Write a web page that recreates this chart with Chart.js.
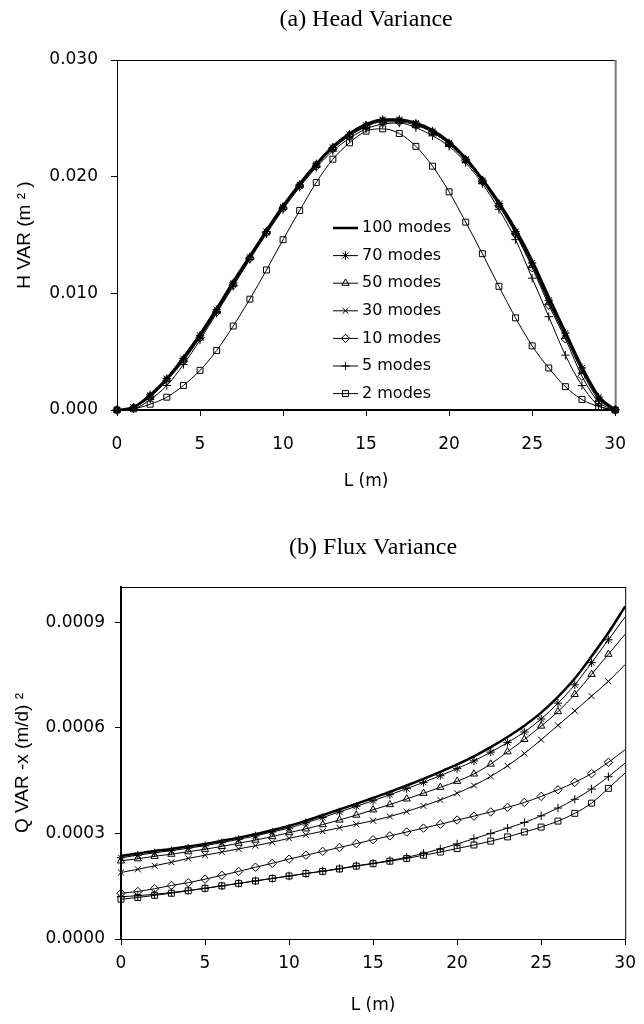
<!doctype html>
<html>
<head>
<meta charset="utf-8">
<title>Head and Flux Variance</title>
<script src="https://cdn.jsdelivr.net/npm/chart.js"></script>
<style>
body{margin:0;background:#fff}
.wrap{position:absolute;left:0;width:644px}
</style>
</head>
<body>
<div class="wrap" style="top:0"><canvas id="head" width="644" height="500"></canvas></div>
<div class="wrap" style="top:510px"><canvas id="flux" width="644" height="514"></canvas></div>
<script>
// L (m) positions
const L = [0,1,2,3,4,5,6,7,8,9,10,11,12,13,14,15,16,17,18,19,20,21,22,23,24,25,26,27,28,29,30];
const xTicks = [0,5,10,15,20,25,30];
const hTicks = [0,0.01,0.02,0.03];
const qTicks = [0,0.0003,0.0006,0.0009];

const labels = ['100 modes','70 modes','50 modes','30 modes','10 modes','5 modes','2 modes'];
const markers = [false,'star','triangle','crossRot','rectRot','cross','rect'];

// (a) head variance, m^2
const h100 = [0,0.00025,0.0013,0.0027,0.0045,0.0065,0.0087,0.0110,0.0132,0.0154,0.0175,0.0194,0.0211,0.0226,0.0237,0.0245,0.0249,0.0249,0.0246,0.0240,0.0230,0.0216,0.0198,0.0178,0.0155,0.0128,0.0097,0.0067,0.0037,0.0012,0];
const h70  = [0,0.00023,0.0013,0.0027,0.0044,0.0064,0.0086,0.0109,0.0131,0.0153,0.0174,0.0193,0.0211,0.0225,0.0236,0.0244,0.0249,0.0249,0.0246,0.0239,0.0229,0.0215,0.0197,0.0177,0.0153,0.0126,0.0094,0.0066,0.0036,0.0011,0];
const h50  = [0,0.00022,0.0012,0.0026,0.0043,0.0063,0.0085,0.0108,0.0131,0.0153,0.0174,0.0193,0.0210,0.0225,0.0236,0.0244,0.0248,0.0248,0.0245,0.0238,0.0228,0.0214,0.0197,0.0176,0.0152,0.0124,0.0092,0.0063,0.0033,0.0009,0];
const h30  = [0,0.00022,0.0012,0.0026,0.0043,0.0063,0.0085,0.0108,0.0130,0.0152,0.0173,0.0192,0.0210,0.0224,0.0235,0.0243,0.0248,0.0248,0.0245,0.0238,0.0228,0.0214,0.0196,0.0176,0.0152,0.0124,0.0093,0.0064,0.0034,0.0010,0];
const h10  = [0,0.00020,0.0011,0.0025,0.0042,0.0062,0.0084,0.0107,0.0130,0.0152,0.0173,0.0192,0.0209,0.0224,0.0235,0.0243,0.0247,0.0247,0.0244,0.0238,0.0228,0.0214,0.0196,0.0175,0.0151,0.0122,0.0090,0.0061,0.0029,0.0007,0];
const h5   = [0,0.0001,0.0009,0.0021,0.0039,0.0060,0.0083,0.0106,0.0129,0.0151,0.0172,0.0191,0.0208,0.0222,0.0233,0.0241,0.0245,0.0246,0.0242,0.0235,0.0226,0.0212,0.0194,0.0172,0.0146,0.0113,0.0080,0.0047,0.0021,0.0004,0];
const h2   = [0,0.0001,0.0005,0.0011,0.0021,0.0034,0.0051,0.0072,0.0095,0.0120,0.0146,0.0171,0.0195,0.0215,0.0229,0.0239,0.0241,0.0237,0.0226,0.0209,0.0187,0.0161,0.0134,0.0106,0.0079,0.0055,0.0036,0.0020,0.0009,0.0003,0];

// (b) flux variance, (m/d)^2
const q100 = [0.000236,0.000243,0.000250,0.000256,0.000263,0.000270,0.000279,0.000288,0.000298,0.000309,0.000321,0.000336,0.000352,0.000368,0.000384,0.000401,0.000418,0.000436,0.000455,0.000475,0.000496,0.000519,0.000545,0.000574,0.000606,0.000643,0.000688,0.000740,0.000803,0.000870,0.000945];
const q70  = [0.000231,0.000238,0.000245,0.000251,0.000258,0.000265,0.000274,0.000283,0.000293,0.000304,0.000315,0.000330,0.000345,0.000361,0.000377,0.000393,0.000410,0.000427,0.000445,0.000464,0.000484,0.000506,0.000531,0.000558,0.000588,0.000625,0.000670,0.000722,0.000785,0.000850,0.000915];
const q50  = [0.000222,0.000228,0.000235,0.000241,0.000248,0.000255,0.000263,0.000272,0.000281,0.000291,0.000302,0.000313,0.000325,0.000338,0.000352,0.000367,0.000382,0.000398,0.000414,0.000431,0.000448,0.000469,0.000497,0.000532,0.000567,0.000605,0.000646,0.000695,0.000752,0.000809,0.000866];
const q30  = [0.000189,0.000198,0.000208,0.000218,0.000229,0.000238,0.000247,0.000256,0.000265,0.000275,0.000286,0.000296,0.000306,0.000316,0.000326,0.000336,0.000348,0.000362,0.000378,0.000395,0.000414,0.000436,0.000462,0.000492,0.000527,0.000566,0.000607,0.000648,0.000690,0.000732,0.000780];
const q10  = [0.000130,0.000135,0.000143,0.000152,0.000160,0.000170,0.000181,0.000192,0.000204,0.000215,0.000227,0.000238,0.000249,0.000260,0.000271,0.000282,0.000293,0.000304,0.000315,0.000326,0.000338,0.000349,0.000361,0.000374,0.000388,0.000405,0.000424,0.000445,0.000470,0.000502,0.000538];
const q5   = [0.000120,0.000123,0.000127,0.000132,0.000138,0.000144,0.000151,0.000158,0.000165,0.000172,0.000179,0.000186,0.000193,0.000200,0.000208,0.000215,0.000223,0.000232,0.000243,0.000256,0.000270,0.000285,0.000300,0.000315,0.000331,0.000350,0.000372,0.000397,0.000426,0.000461,0.000500];
const q2   = [0.000113,0.000118,0.000124,0.000130,0.000137,0.000144,0.000151,0.000158,0.000165,0.000172,0.000179,0.000186,0.000192,0.000199,0.000207,0.000214,0.000221,0.000229,0.000238,0.000247,0.000257,0.000267,0.000278,0.000290,0.000304,0.000318,0.000335,0.000357,0.000386,0.000428,0.000472];

const SANS = '"DejaVu Sans", "Liberation Sans", sans-serif';
const SANS_N = '"Liberation Sans", Arial, sans-serif';
const SERIF = '"Liberation Serif", "Times New Roman", serif';

function makeSets(series, lastMarker) {
  return series.map((ys, i) => ({
    label: labels[i],
    data: ys.map((y, j) => ({ x: L[j], y: y })),
    borderColor: '#000',
    borderWidth: i === 0 ? 2.5 : 1,
    pointStyle: markers[i] || 'circle',
    pointRadius: i === 0 ? 0 : (c => (!lastMarker && c.dataIndex === L.length - 1) ? 0 : 4.2),
    pointBorderWidth: 1,
    pointBorderColor: '#000',
    pointBackgroundColor: 'rgba(0,0,0,0)',
    cubicInterpolationMode: 'monotone',
    clip: false,
    fill: false
  }));
}

// box round the plot area + title centred over the plot area
const frame = {
  id: 'frame',
  beforeDatasetsDraw(chart, args, opts) {
    const a = chart.chartArea, ctx = chart.ctx;
    ctx.save();
    ctx.lineWidth = 1;
    ctx.strokeStyle = '#000';
    ctx.beginPath();
    ctx.moveTo(a.left, a.top + 0.5);
    ctx.lineTo(a.right + 1, a.top + 0.5);
    ctx.stroke();
    ctx.lineWidth = opts.rightWidth;
    ctx.strokeStyle = opts.rightColor;
    ctx.beginPath();
    ctx.moveTo(a.right + 0.5, a.top);
    ctx.lineTo(a.right + 0.5, a.bottom);
    ctx.stroke();
    ctx.fillStyle = '#000';
    ctx.font = '24px ' + SERIF;
    ctx.textAlign = 'center';
    ctx.textBaseline = 'middle';
    ctx.fillText(opts.text, (a.left + a.right) / 2, opts.y);
    ctx.restore();
  }
};

// legend drawn inside the head chart
const innerLegend = {
  id: 'innerLegend',
  afterDatasetsDraw(chart, args, opts) {
    if (!opts.show) return;
    const ctx = chart.ctx, a = chart.chartArea;
    const x0 = a.left + 216, y0 = a.top + 168;
    ctx.save();
    ctx.font = '16px ' + SANS;
    ctx.textBaseline = 'middle';
    chart.data.datasets.forEach((ds, i) => {
      const y = y0 + i * 27.6;
      ctx.strokeStyle = '#000';
      ctx.lineWidth = ds.borderWidth;
      ctx.beginPath(); ctx.moveTo(x0, y); ctx.lineTo(x0 + 25, y); ctx.stroke();
      if (markers[i] && Chart.helpers && Chart.helpers.drawPoint) {
        ctx.lineWidth = 1;
        ctx.fillStyle = 'rgba(0,0,0,0)';
        Chart.helpers.drawPoint(ctx, { pointStyle: markers[i], radius: 4.2, rotation: 0, borderWidth: 1 }, x0 + 12.5, y);
      }
      ctx.fillStyle = '#000';
      ctx.fillText(ds.label, x0 + 29, y);
    });
    ctx.restore();
  }
};

function axis(ticks, min, max, fmt, title, o) {
  return {
    type: 'linear',
    min: min,
    max: max,
    afterBuildTicks: s => { s.ticks = ticks.map(v => ({ value: v })); },
    grid: { drawOnChartArea: false, drawTicks: true, tickLength: 6, color: '#000', tickColor: '#000' },
    border: { color: '#000', width: o.border },
    ticks: { color: '#000', font: { family: SANS, size: 17 }, padding: o.tickPad, maxRotation: 0, callback: fmt },
    title: { display: true, text: title, color: '#000', font: { family: o.titleFont || SANS, size: o.titleSize || 17 }, padding: o.titlePad },
    afterFit: o.fit
  };
}

function build(id, series, o) {
  return new Chart(document.getElementById(id), {
    type: 'line',
    data: { datasets: makeSets(series, o.lastMarker) },
    options: {
      responsive: false,
      animation: false,
      devicePixelRatio: 1,
      layout: { padding: { left: 0, right: o.right, top: o.top, bottom: 0 } },
      plugins: {
        legend: { display: false },
        tooltip: { enabled: false },
        title: { display: false },
        frame: { text: o.title, y: o.titleY, rightColor: o.rightColor, rightWidth: o.rightWidth },
        innerLegend: { show: o.legend }
      },
      scales: {
        x: axis(xTicks, 0, 30, v => String(v), 'L (m)', {
          border: o.xBorder, tickPad: o.xTickPad,
          titlePad: { top: 0, bottom: o.xTitlePad },
          fit: s => { s.height = o.xHeight; }
        }),
        y: axis(o.yTicks, 0, o.yMax, v => v.toFixed(o.dec), o.yTitle, {
          border: o.yBorder, tickPad: o.yTickPad,
          titleFont: SANS_N, titleSize: 19,
          titlePad: { top: o.yTitlePad, bottom: 0 },
          fit: s => { s.width = o.yWidth; }
        })
      }
    },
    plugins: [frame, innerLegend]
  });
}

build('head', [h100, h70, h50, h30, h10, h5, h2], {
  title: '(a) Head Variance', titleY: 20, top: 60,
  yTicks: hTicks, yMax: 0.03, dec: 3, yTitle: 'H VAR (m ² )', yTitlePad: 13,
  yWidth: 117, yBorder: 1, yTickPad: 13,
  right: 13, xHeight: 90, xTickPad: 18, xTitlePad: 8, xBorder: 2,
  rightColor: '#777', rightWidth: 2, legend: true, lastMarker: true
});

build('flux', [q100, q70, q50, q30, q10, q5, q2], {
  title: '(b) Flux Variance', titleY: 38, top: 77,
  yTicks: qTicks, yMax: 0.001, dec: 4, yTitle: 'Q VAR -x (m/d) ²', yTitlePad: 11,
  yWidth: 121, yBorder: 2, yTickPad: 10,
  right: 12, xHeight: 85, xTickPad: 8, xTitlePad: 8, xBorder: 1,
  rightColor: '#000', rightWidth: 1, legend: false, lastMarker: false
});
</script>
</body>
</html>
